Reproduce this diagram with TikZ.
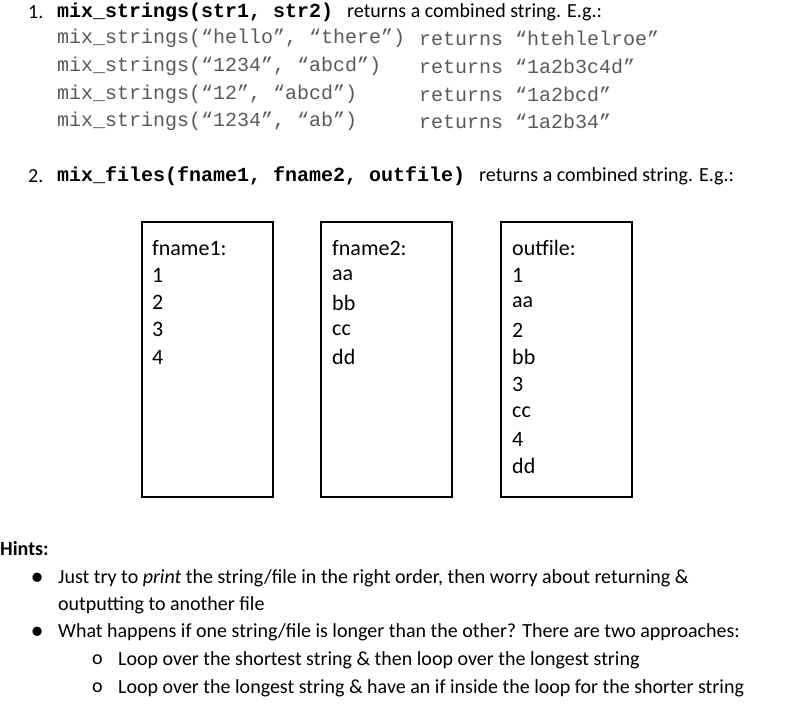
\documentclass[tikz,border=0pt]{standalone}
\usepackage{fontspec}
\setmainfont{Carlito}
\setmonofont{Liberation Mono}
\begin{document}
\begin{tikzpicture}[x=1pt,y=-1pt,
  txt/.style={anchor=west,inner sep=0pt,font=\fontsize{20}{22}\selectfont},
  bx/.style={anchor=west,inner sep=0pt,font=\fontsize{22}{24}\selectfont},
  cd/.style={anchor=west,inner sep=0pt,font=\fontsize{20}{22}\selectfont\ttfamily,text=black!65},
  bcd/.style={anchor=west,inner sep=0pt,font=\fontsize{20}{22}\selectfont\ttfamily\bfseries}]
\useasboundingbox (0,0) rectangle (806,722);
\node[txt] (n1) at (28,12) {1.};
\node[bcd] (h1) at (57,12) {mix\_strings(str1, str2)};
\node[txt] (h1t) at (347,12) {returns a combined string. E.g.:};
\node[cd] (a1) at (57,38) {mix\_strings(“hello”, “there”)};
\node[cd] (b1) at (419,38) {returns “htehlelroe”};
\node[cd] (a2) at (57,66) {mix\_strings(“1234”, “abcd”)};
\node[cd] (b2) at (419,66) {returns “1a2b3c4d”};
\node[cd] (a3) at (57,94) {mix\_strings(“12”, “abcd”)};
\node[cd] (b3) at (419,94) {returns “1a2bcd”};
\node[cd] (a4) at (57,121) {mix\_strings(“1234”, “ab”)};
\node[cd] (b4) at (419,121) {returns “1a2b34”};
\node[txt] (n2) at (28,176) {2.};
\node[bcd] (h2) at (57,176) {mix\_files(fname1, fname2, outfile)};
\node[txt] (h2t) at (479,176) {returns a combined string. E.g.:};
\draw[line width=2.5pt] (142,222) rectangle (273,497);
\draw[line width=2.5pt] (321,222) rectangle (452,497);
\draw[line width=2.5pt] (501,222) rectangle (632,497);
\node[bx] (f1) at (152,248) {fname1:};
\node[bx] (f2) at (332,248) {fname2:};
\node[bx] (f3) at (512,248) {outfile:};
\foreach \t [count=\i] in {1,2,3,4} \node[bx] (p\i) at (152,248+27.3*\i) {\t};
\foreach \t [count=\i] in {aa,bb,cc,dd} \node[bx] (q\i) at (332,248+27.3*\i) {\t};
\foreach \t [count=\i] in {1,aa,2,bb,3,cc,4,dd} \node[bx] (r\i) at (512,248+27.3*\i) {\t};
\node[txt,font=\fontsize{20}{22}\selectfont\bfseries] (hints) at (0,549) {Hints:};
\foreach \y [count=\i] in {578,632} \node[txt] (bul\i) at (31,\y) {●};
\node[txt] (t1) at (58,578) {Just try to \textit{print} the string/file in the right order, then worry about returning \&};
\node[txt] (t1b) at (58,605) {outputting to another file};
\node[txt] (t2) at (58,632) {What happens if one string/file is longer than the other? There are two approaches:};
\node[txt] (o1) at (92,660) {o};
\node[txt] (o2) at (92,688) {o};
\node[txt] (s1) at (118,660) {Loop over the shortest string \& then loop over the longest string};
\node[txt] (s2) at (118,688) {Loop over the longest string \& have an if inside the loop for the shorter string};
\end{tikzpicture}
\end{document}
